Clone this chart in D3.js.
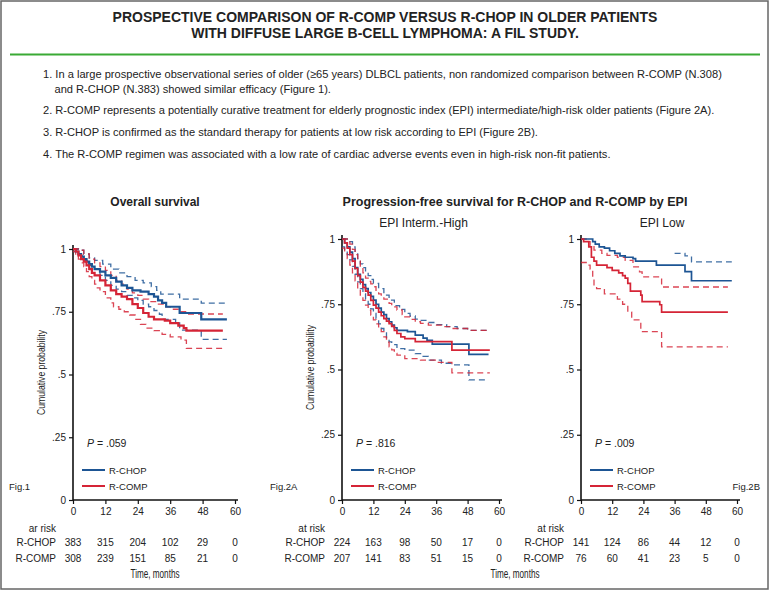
<!DOCTYPE html>
<html>
<head>
<meta charset="utf-8">
<script src="https://cdn.jsdelivr.net/npm/d3@7"></script>
<style>
  body { margin: 0; background: #fff; }
  text { font-family: "Liberation Sans", Arial, sans-serif; fill: #222; }
</style>
</head>
<body>
<div class="first"></div>
<script>
// ---- text ----
const titleLines = ['PROSPECTIVE COMPARISON OF R-COMP VERSUS R-CHOP IN OLDER PATIENTS',
                    'WITH DIFFUSE LARGE B-CELL LYMPHOMA: A FIL STUDY.'];
const points = [
  ['1. In a large prospective observational series of older (\u226565 years) DLBCL patients, non randomized comparison between R-COMP (N.308)',
   'and R-CHOP (N.383) showed similar efficacy (Figure 1).'],
  ['2. R-COMP represents a potentially curative treatment for elderly prognostic index (EPI) intermediate/high-risk older patients (Figure 2A).'],
  ['3. R-CHOP is confirmed as the standard therapy for patients at low risk according to EPI (Figure 2B).'],
  ['4. The R-COMP regimen was associated with a low rate of cardiac adverse events even in high-risk non-fit patients.']
];
const arms = ['R-CHOP', 'R-COMP'];
const xTicks = [0, 12, 24, 36, 48, 60];
const yTicks = [0, 0.25, 0.5, 0.75, 1];
const yTickLabels = ['0', '.25', '.5', '.75', '1'];

// ---- Fig.1 overall survival: [month, probability] ----
const osChop = [[0,1],[1,0.99],[2,0.98],[3,0.97],[4,0.96],[5,0.95],[6,0.94],[7,0.93],[8,0.92],[10,0.91],[12,0.895],[14,0.885],[16,0.87],[18,0.855],[20,0.845],[22,0.835],[25,0.83],[28,0.82],[30,0.81],[31.5,0.795],[33,0.785],[34.5,0.77],[39.5,0.745],[47.5,0.72],[57,0.72]];
const osComp = [[0,1],[1,0.99],[2,0.975],[3,0.96],[4,0.95],[5,0.935],[6,0.92],[7,0.905],[8,0.895],[10,0.875],[12,0.855],[14,0.835],[16,0.82],[18,0.81],[20,0.8],[22,0.78],[24,0.765],[26,0.745],[28,0.73],[30,0.72],[34,0.715],[36,0.705],[39,0.695],[41,0.685],[42,0.675],[55.5,0.675]];
const osChopHi = [[0,1],[2,0.995],[4,0.98],[6,0.965],[8,0.955],[11,0.94],[14,0.92],[17,0.905],[20,0.89],[23,0.875],[26,0.865],[29,0.85],[31,0.835],[32.5,0.82],[39.5,0.8],[47.5,0.784],[57,0.784]];
const osChopLo = [[0,1],[2,0.975],[4,0.955],[6,0.935],[8,0.92],[10,0.895],[12,0.875],[14,0.855],[16,0.84],[18,0.83],[20,0.815],[22,0.805],[24,0.795],[26,0.78],[28,0.77],[30,0.755],[32,0.74],[33,0.72],[38,0.71],[39.5,0.677],[47.5,0.64],[57,0.64]];
const osCompHi = [[0,1],[2,0.995],[4,0.98],[6,0.96],[8,0.945],[10,0.93],[12,0.915],[14,0.895],[16,0.875],[18,0.86],[20,0.84],[22,0.825],[24,0.815],[26,0.8],[28,0.79],[31,0.78],[34,0.77],[36,0.76],[40,0.75],[42,0.741],[55.5,0.741]];
const osCompLo = [[0,0.99],[1,0.975],[2,0.96],[3,0.945],[4,0.93],[5,0.91],[6,0.89],[7,0.875],[8,0.86],[9,0.845],[10,0.83],[12,0.805],[14,0.785],[15,0.77],[17,0.76],[19,0.75],[21,0.737],[23,0.72],[25,0.7],[27,0.685],[30,0.675],[33,0.66],[36,0.65],[40,0.637],[42,0.604],[55.5,0.604]];
const osRisk = [[383, 315, 204, 102, 29, 0], [308, 239, 151, 85, 21, 0]];

// ---- Fig.2A PFS, EPI intermediate-high ----
const pfsHighChop = [[0,1],[1,0.985],[2,0.97],[3,0.95],[4,0.925],[5,0.89],[6,0.865],[7,0.845],[8,0.825],[9,0.81],[10,0.795],[11,0.78],[12,0.766],[13,0.75],[14,0.735],[15,0.72],[16,0.71],[17,0.695],[18,0.683],[19,0.67],[20,0.66],[21,0.65],[25,0.645],[28,0.632],[31,0.62],[32.5,0.612],[34.5,0.597],[48.5,0.558],[56,0.558]];
const pfsHighComp = [[0,1],[1,0.985],[2,0.965],[3,0.94],[4,0.915],[5,0.887],[6,0.86],[7,0.835],[8,0.815],[9,0.8],[10,0.785],[11,0.765],[12,0.747],[13,0.735],[14,0.72],[15,0.706],[16,0.695],[17,0.685],[18,0.676],[19,0.665],[20,0.65],[21,0.638],[22.5,0.625],[24,0.618],[28,0.607],[42,0.574],[56.5,0.574]];
const pfsHighChopHi = [[0,1],[2,1],[3,0.99],[4,0.97],[5,0.95],[6,0.925],[7,0.905],[8,0.89],[9,0.875],[10,0.86],[11,0.845],[12,0.83],[14,0.81],[16,0.785],[18,0.766],[20,0.745],[22,0.73],[24,0.715],[26,0.705],[28,0.693],[30,0.688],[33,0.68],[36,0.672],[40,0.664],[44,0.657],[48,0.65],[56,0.65]];
const pfsHighChopLo = [[0,0.97],[1,0.955],[2,0.94],[3,0.92],[4,0.895],[5,0.865],[6,0.836],[7,0.81],[8,0.79],[9,0.77],[10,0.75],[11,0.732],[12,0.715],[13,0.695],[14,0.675],[15,0.657],[16,0.64],[17,0.622],[18,0.606],[19,0.595],[21,0.58],[24,0.574],[28,0.561],[31,0.55],[33,0.536],[38,0.524],[42,0.518],[48.5,0.46],[56,0.46]];
const pfsHighCompHi = [[0,1],[2,0.995],[3,0.98],[4,0.96],[5,0.94],[6,0.915],[7,0.89],[8,0.87],[9,0.85],[10,0.838],[11,0.828],[12,0.817],[13,0.8],[14,0.79],[15,0.78],[16,0.77],[18,0.753],[19,0.74],[21,0.728],[23,0.71],[24,0.702],[26,0.692],[28,0.683],[30,0.677],[33,0.67],[38,0.664],[42,0.657],[48,0.65],[56.5,0.65]];
const pfsHighCompLo = [[0,0.965],[1,0.95],[2,0.925],[3,0.9],[4,0.87],[5,0.84],[6,0.81],[7,0.785],[8,0.765],[9,0.747],[10,0.727],[11,0.708],[12,0.69],[13,0.675],[14,0.66],[15,0.645],[16,0.625],[17,0.605],[18,0.587],[19,0.575],[20,0.562],[21,0.555],[24,0.542],[30,0.536],[36,0.527],[42,0.487],[56.5,0.487]];
const pfsHighRisk = [[224, 163, 98, 50, 17, 0], [207, 141, 83, 51, 15, 0]];

// ---- Fig.2B PFS, EPI low ----
const pfsLowChop = [[0,1],[4.5,0.99],[5.5,0.98],[7,0.97],[9,0.965],[11,0.955],[13,0.945],[15,0.935],[17,0.93],[20,0.925],[21,0.915],[29,0.9],[40,0.875],[42.5,0.84],[58,0.84]];
const pfsLowComp = [[0,1],[1,0.99],[3,0.97],[4,0.93],[5,0.915],[6,0.9],[10,0.89],[12,0.88],[14.5,0.87],[16,0.86],[17,0.85],[18,0.83],[19,0.8],[23,0.785],[23.5,0.76],[30.3,0.748],[31,0.72],[56.5,0.72]];
const pfsLowChopHi = [[36,0.945],[40,0.935],[42.5,0.912],[58,0.912]];
const pfsLowCompHi = [[0,1],[2,0.99],[3.5,0.975],[5,0.957],[8,0.945],[10,0.937],[14,0.93],[17,0.918],[20,0.893],[22.5,0.874],[23.5,0.855],[31,0.816],[56.5,0.816]];
const pfsLowCompLo = [[0,0.91],[2,0.9],[3.5,0.885],[4.5,0.85],[5,0.82],[6,0.81],[9,0.79],[14,0.77],[16,0.75],[18,0.72],[19.5,0.69],[23,0.645],[31,0.587],[56.5,0.587]];
const pfsLowRisk = [[141, 124, 86, 44, 12, 0], [76, 60, 41, 23, 5, 0]];

const blue = '#1d5594';
const red = '#d52436';

const W = 770, H = 591;
const svg = d3.select('.first').append('svg')
  .attr('width', W)
  .attr('height', H);

// frame
svg.append('rect')
  .attr('x', 1).attr('y', 1)
  .attr('width', W - 3).attr('height', H - 3)
  .attr('fill', 'none').attr('stroke', '#666').attr('stroke-width', 1.5);

// header
svg.selectAll('.title')
  .data(titleLines)
  .enter().append('text')
  .attr('x', W / 2)
  .attr('y', (d, i) => 21.5 + i * 16.5)
  .attr('text-anchor', 'middle')
  .style('font-size', '14px')
  .style('font-weight', 'bold')
  .text(d => d);

svg.append('line')
  .attr('x1', 10).attr('x2', 760)
  .attr('y1', 54.5).attr('y2', 54.5)
  .attr('stroke', '#3aaa35').attr('stroke-width', 2);

const lineY = [[77.5, 93], [114], [136], [158]];
points.forEach((p, i) => {
  p.forEach((t, j) => {
    svg.append('text')
      .attr('x', j === 0 ? 43 : 54.5)
      .attr('y', lineY[i][j])
      .style('font-size', '11.1px')
      .text(t);
  });
});

// section titles
svg.append('text').attr('x', 155).attr('y', 206).attr('text-anchor', 'middle')
  .style('font-size', '12px').style('font-weight', 'bold').text('Overall survival');
svg.append('text').attr('x', 515).attr('y', 206).attr('text-anchor', 'middle')
  .style('font-size', '12.5px').style('font-weight', 'bold')
  .text('Progression-free survival for R-CHOP and R-COMP by EPI');

// condensed labels: squeeze regular glyphs to the narrow width of the original
function narrowText(sel, len) {
  return sel.attr('textLength', len).attr('lengthAdjust', 'spacingAndGlyphs');
}

function drawPanel(cfg) {
  const g = svg.append('g');
  const x = d3.scaleLinear().domain([0, 60]).range([cfg.x0, cfg.x1]);
  const y = d3.scaleLinear().domain([0, 1]).range([500, cfg.yTop]);

  // axes
  g.append('g')
    .attr('transform', 'translate(0,500)')
    .call(d3.axisBottom(x).tickValues(xTicks).tickSize(4).tickPadding(4))
    .call(a => a.select('.domain').attr('stroke', '#111').attr('stroke-width', 1.6).attr('d', `M${cfg.x0},0H${cfg.x1 + 3}`))
    .call(a => a.selectAll('.tick line').attr('stroke', '#111').attr('stroke-width', 1.2))
    .call(a => a.selectAll('.tick text').style('font-size', '10px').attr('fill', '#222'));

  g.append('g')
    .attr('transform', `translate(${cfg.x0},0)`)
    .call(d3.axisLeft(y).tickValues(yTicks).tickFormat((d, i) => yTickLabels[i]).tickSize(4).tickPadding(3))
    .call(a => a.select('.domain').attr('stroke', '#111').attr('stroke-width', 1.6).attr('d', `M0,${500 + 1}V${cfg.yTop - 4}`))
    .call(a => a.selectAll('.tick line').attr('stroke', '#111').attr('stroke-width', 1.2))
    .call(a => a.selectAll('.tick text').style('font-size', '10px').attr('fill', '#222'));

  if (cfg.yTitle) {
    g.append('text')
      .attr('transform', `translate(${cfg.x0 - 28},${(500 + cfg.yTop) / 2 - 2}) rotate(-90)`)
      .attr('text-anchor', 'middle')
      .style('font-size', '11.5px')
      .text('Cumulative probability')
      .call(narrowText, 85);
  }
  if (cfg.subtitle) {
    g.append('text').attr('x', (cfg.x0 + cfg.x1) / 2 + 3).attr('y', 227)
      .attr('text-anchor', 'middle').style('font-size', '12px').text(cfg.subtitle);
  }

  const line = d3.line()
    .x(d => x(d[0]))
    .y(d => y(d[1]))
    .curve(d3.curveStepAfter);

  cfg.bands.forEach(b => {
    g.append('path')
      .attr('d', line(b.data))
      .attr('fill', 'none')
      .attr('stroke', b.color)
      .attr('stroke-opacity', 0.85)
      .attr('stroke-width', 1.3)
      .attr('stroke-dasharray', '6,4');
  });
  cfg.curves.forEach(c => {
    g.append('path')
      .attr('d', line(c.data))
      .attr('fill', 'none')
      .attr('stroke', c.color)
      .attr('stroke-width', cfg.lw);
  });

  // p value
  const pt = g.append('text').attr('x', cfg.x0 + 14).attr('y', 447).style('font-size', '10.5px');
  pt.append('tspan').style('font-style', 'italic').text('P');
  pt.append('tspan').text(' = ' + cfg.p);

  // legend
  arms.forEach((a, i) => {
    const ly = 470 + i * 16;
    g.append('line')
      .attr('x1', cfg.x0 + 9).attr('x2', cfg.x0 + 32)
      .attr('y1', ly).attr('y2', ly)
      .attr('stroke', i === 0 ? blue : red).attr('stroke-width', 2);
    g.append('text').attr('x', cfg.x0 + 36).attr('y', ly + 3.5)
      .style('font-size', '9.5px').text(a);
  });

  // fig label
  g.append('text')
    .attr('x', cfg.figX).attr('y', 490)
    .attr('text-anchor', cfg.figAnchor)
    .style('font-size', '9.5px').text(cfg.fig);

  // numbers at risk
  g.append('text').attr('x', cfg.x0 - 17).attr('y', 532)
    .attr('text-anchor', 'end').style('font-size', '10px').text(cfg.riskLabel);
  arms.forEach((a, i) => {
    const ry = 546 + i * 15.5;
    g.append('text').attr('x', cfg.x0 - 17).attr('y', ry)
      .attr('text-anchor', 'end').style('font-size', '10px').text(a);
    g.selectAll(null)
      .data(cfg.risk[i])
      .enter().append('text')
      .attr('x', (d, k) => x(xTicks[k]))
      .attr('y', ry)
      .attr('text-anchor', 'middle')
      .style('font-size', '10px')
      .text(d => d);
  });
}

drawPanel({
  x0: 73, x1: 235, yTop: 249, lw: 2.2, yTitle: true,
  curves: [{data: osChop, color: blue}, {data: osComp, color: red}],
  bands: [{data: osChopHi, color: blue}, {data: osChopLo, color: blue},
          {data: osCompHi, color: red}, {data: osCompLo, color: red}],
  p: '.059', risk: osRisk, riskLabel: 'ar risk',
  fig: 'Fig.1', figX: 9, figAnchor: 'start'
});

drawPanel({
  x0: 342, x1: 499, yTop: 239, lw: 1.7, yTitle: true, subtitle: 'EPI Interm.-High',
  curves: [{data: pfsHighChop, color: blue}, {data: pfsHighComp, color: red}],
  bands: [{data: pfsHighChopHi, color: blue}, {data: pfsHighChopLo, color: blue},
          {data: pfsHighCompHi, color: red}, {data: pfsHighCompLo, color: red}],
  p: '.816', risk: pfsHighRisk, riskLabel: 'at risk',
  fig: 'Fig.2A', figX: 270, figAnchor: 'start'
});

drawPanel({
  x0: 581, x1: 737, yTop: 239, lw: 1.7, yTitle: false, subtitle: 'EPI Low',
  curves: [{data: pfsLowChop, color: blue}, {data: pfsLowComp, color: red}],
  bands: [{data: pfsLowChopHi, color: blue},
          {data: pfsLowCompHi, color: red}, {data: pfsLowCompLo, color: red}],
  p: '.009', risk: pfsLowRisk, riskLabel: 'at risk',
  fig: 'Fig.2B', figX: 760, figAnchor: 'end'
});

// shared x titles
svg.append('text').attr('x', 155).attr('y', 578)
  .attr('text-anchor', 'middle').style('font-size', '12px').text('Time, months')
  .call(narrowText, 49);
svg.append('text').attr('x', 515).attr('y', 578)
  .attr('text-anchor', 'middle').style('font-size', '12px').text('Time, months')
  .call(narrowText, 49);
</script>
</body>
</html>
